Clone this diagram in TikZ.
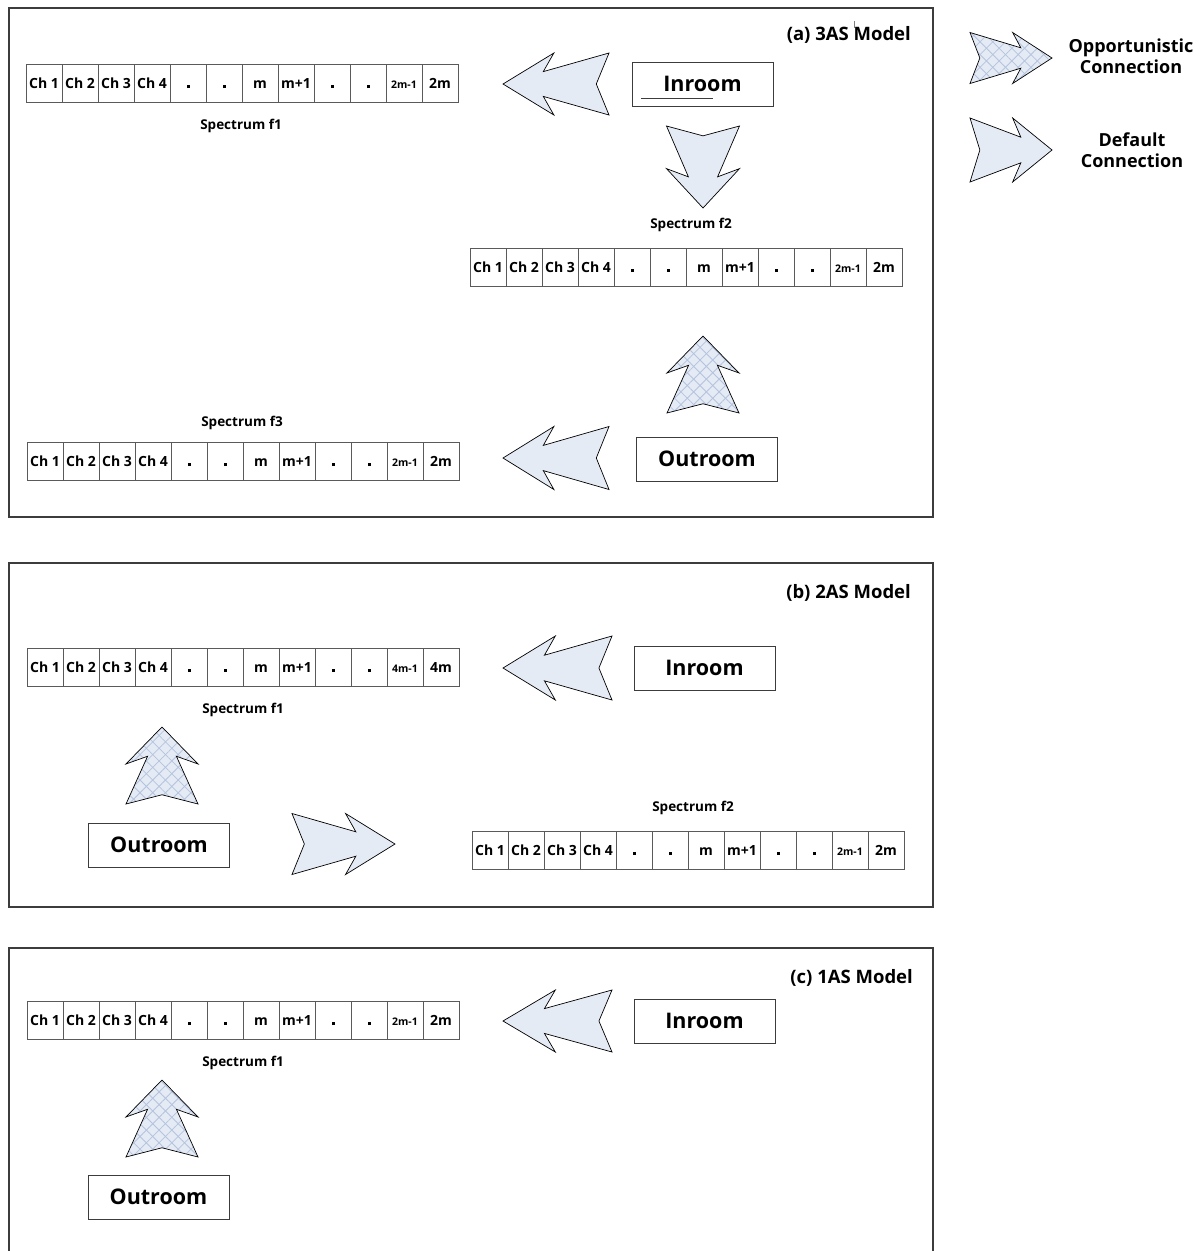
\documentclass[tikz,border=0pt]{standalone}
\usepackage{fontspec}
\setmainfont{Open Sans}
\usetikzlibrary{patterns.meta}
\definecolor{arrowfill}{HTML}{E5EBF5}
\definecolor{hatch}{HTML}{B4C3DD}
\definecolor{framecol}{HTML}{3C3C3C}
\definecolor{cellcol}{HTML}{5A5A5A}

\tikzset{
  frame/.style={draw=framecol, line width=1.1pt},
  cell/.style={draw=cellcol, line width=0.8pt, minimum width=36pt, minimum height=38pt, inner sep=0pt,
     text height=10pt, text depth=0pt, font=\bfseries\fontsize{14}{14}\selectfont},
  roombox/.style={draw=framecol, line width=0.9pt, minimum width=141pt, minimum height=44pt, inner sep=0pt, font=\bfseries\fontsize{21.5}{22}\selectfont},
  speclabel/.style={font=\bfseries\fontsize{13.5}{14}\selectfont, inner sep=0pt},
  titlelabel/.style={font=\bfseries\fontsize{18.5}{19}\selectfont, inner sep=0pt, anchor=east},
  legendlabel/.style={font=\bfseries\fontsize{18}{21}\selectfont, inner sep=0pt, align=center},
  defarrow/.style={draw=black, line width=0.7pt, fill=arrowfill, line join=miter},
  opparrow/.style={fill=arrowfill,
     postaction={pattern={Lines[angle=45,distance=9pt,line width=0.8pt]}, pattern color=hatch},
     postaction={pattern={Lines[angle=-45,distance=9pt,line width=0.8pt]}, pattern color=hatch},
     postaction={draw=black, line width=0.7pt, line join=miter}},
}

% chevron arrow: #1 style, #2,#3 back centre, #4 angle, #5 length, #6 width
\newcommand\chevarrow[6]{%
  \begin{scope}[shift={(#2,#3)},rotate=#4]
    \path[#1] (0,{0.5*#6}) -- ({0.62*#5},{0.2*#6}) -- ({0.52*#5},{0.5*#6}) -- (#5,0)
      -- ({0.52*#5},{-0.5*#6}) -- ({0.62*#5},{-0.2*#6}) -- (0,{-0.5*#6}) -- ({0.12*#5},0) -- cycle;
  \end{scope}}

\newcommand\smalllab[1]{{\fontsize{10.5}{10.5}\selectfont #1}}
\newcommand\dotlab{\rule{3pt}{3pt}}

% spectrum strip: #1 name, #2 left x, #3 top y, #4 label 11, #5 label 12
\newcommand\specstrip[5]{%
  \foreach \t [count=\i] in {Ch 1,Ch 2,Ch 3,Ch 4,\dotlab,\dotlab,m,m+1,\dotlab,\dotlab,{#4},{#5}} {
    \node[cell] (#1-\i) at ({#2+18+36*(\i-1)},{#3+19}) {\t};
  }}

\begin{document}
\begin{tikzpicture}[x=1pt,y=-1pt]
\useasboundingbox (0,0) rectangle (1203,1251);

% ---------- panel (a)
\draw[frame] (9,8) rectangle (933,517);
\node[titlelabel] (ta) at (911,35) {(a) 3AS Model};
\draw[gray, line width=0.5pt] (854,21) -- (854,28);

\specstrip{fa}{26}{64}{\smalllab{2m-1}}{2m}
\node[speclabel] (sfa1) at (241,126) {Spectrum f1};

\specstrip{fb}{470}{248}{\smalllab{2m-1}}{2m}
\node[speclabel] (sfa2) at (691,225) {Spectrum f2};

\specstrip{fc}{27}{442}{\smalllab{2m-1}}{2m}
\node[speclabel] (sfa3) at (242,423) {Spectrum f3};

\node[roombox] (inA) at (702.5,84) {Inroom};
\draw[framecol, line width=0.8pt] (641,98.5) -- (713,98.5);
\node[roombox] (outA) at (707,459) {Outroom};

\chevarrow{defarrow}{609}{84}{180}{106}{62}
\chevarrow{defarrow}{703}{126}{270}{82}{73}
\chevarrow{opparrow}{703}{413}{90}{77}{72}
\chevarrow{defarrow}{609}{458}{180}{106}{63}

% ---------- legend
\chevarrow{opparrow}{970}{58}{0}{82}{51}
\node[legendlabel] (lopp) at (1131,56) {Opportunistic\\Connection};
\chevarrow{defarrow}{970}{150}{0}{82}{64}
\node[legendlabel] (ldef) at (1132,150) {Default\\Connection};

% ---------- panel (b)
\draw[frame] (9,563) rectangle (933,907);
\node[titlelabel] (tb) at (911,593) {(b) 2AS Model};

\specstrip{fd}{27}{648}{\smalllab{4m-1}}{4m}
\node[speclabel] (sfb1) at (243,710) {Spectrum f1};

\specstrip{fe}{472}{831}{\smalllab{2m-1}}{2m}
\node[speclabel] (sfb2) at (693,808) {Spectrum f2};

\node[roombox] (inB) at (704.5,668) {Inroom};
\node[roombox] (outB) at (159,845) {Outroom};

\chevarrow{defarrow}{612}{668}{180}{109}{64}
\chevarrow{opparrow}{162}{804}{90}{77}{72}
\chevarrow{defarrow}{292}{844}{0}{103}{61}

% ---------- panel (c)
\draw[frame] (9,1252) -- (9,948) -- (933,948) -- (933,1252);
\node[titlelabel] (tc) at (913,978) {(c) 1AS Model};

\specstrip{ff}{27}{1001}{\smalllab{2m-1}}{2m}
\node[speclabel] (sfc1) at (243,1063) {Spectrum f1};

\node[roombox] (inC) at (704.5,1021) {Inroom};
\node[roombox] (outC) at (158.5,1197) {Outroom};

\chevarrow{defarrow}{612}{1021}{180}{109}{62}
\chevarrow{opparrow}{162}{1157}{90}{77}{72}

\end{tikzpicture}
\end{document}
